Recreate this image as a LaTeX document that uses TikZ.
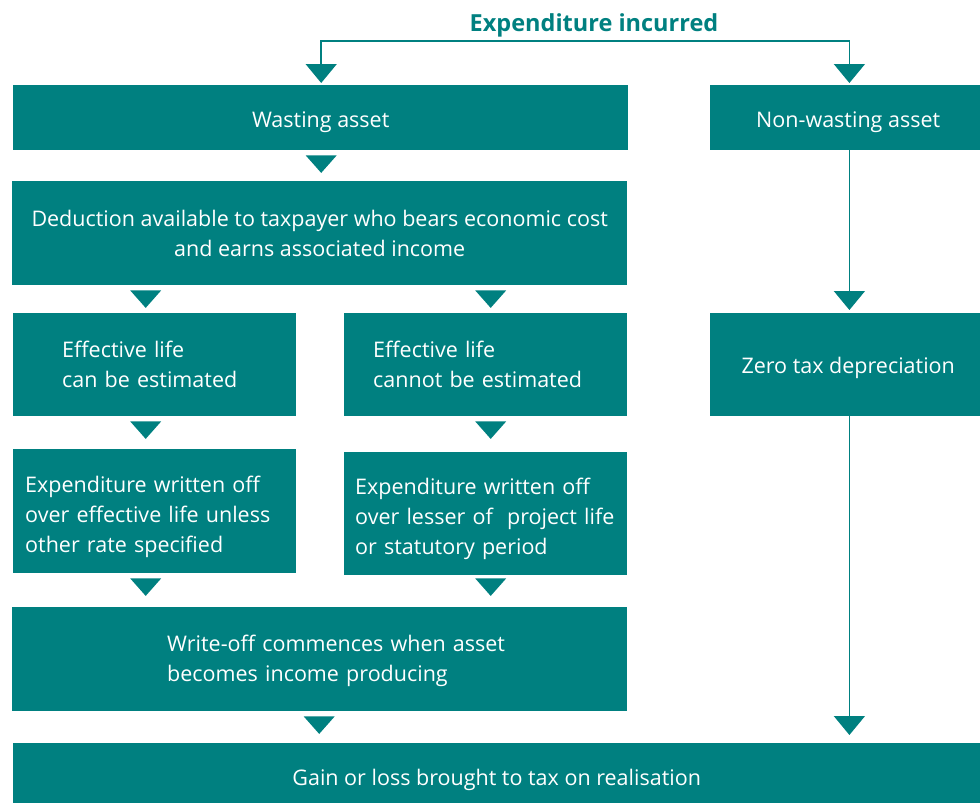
\documentclass[tikz,border=0pt]{standalone}
\usepackage{fontspec}
\setmainfont{Open Sans}
\usetikzlibrary{arrows.meta}
\definecolor{tealbox}{RGB}{0,128,128}
% set text lower by #1 without changing the space it takes
\newcommand\dropby[2]{\raisebox{-#1}[\height][\depth]{#2}}
% a left-aligned block of lines, indented by #1 and lowered by #2
\newcommand\indentlines[3]{\hspace*{#1}\dropby{#2}{\begin{tabular}{@{}l@{}}#3\end{tabular}}}
\begin{document}
\begin{tikzpicture}[x=1pt,y=-1pt,
  box/.style={anchor=north west, fill=tealbox, text=white, inner sep=0pt,
    font=\fontsize{21.5}{30}\selectfont},
  lbox/.style={box, text width=#1, align=left},
  tri/.pic={\fill[tealbox] (-15.5,0) -- (15.5,0) -- (0,17.5) -- cycle;},
  flow/.style={draw=tealbox, line width=1.6pt,
    -{Triangle[width=31pt,length=19pt]}, shorten >=2pt}]
\useasboundingbox (0,0) rectangle (980,803);

% heading
\node[text=tealbox, font=\fontsize{23.5}{26}\selectfont\bfseries] (head) at (594,25) {Expenditure incurred};
\coordinate (split) at (594,41);

% left branch: wasting asset
\node[box, minimum width=615pt, minimum height=65pt] (wasting) at (13,85) {\dropby{4pt}{Wasting asset}};
\node[box, minimum width=615pt, minimum height=104pt, align=center] (deduct) at (12,181)
  {Deduction available to taxpayer who bears economic cost\\and earns associated income};
\node[lbox=283pt, minimum width=283pt, minimum height=103pt] (estl) at (13,313)
  {\indentlines{49pt}{2pt}{Effective life\\can be estimated}};
\node[lbox=283pt, minimum width=283pt, minimum height=103pt] (estr) at (344,313)
  {\indentlines{29pt}{2pt}{Effective life\\cannot be estimated}};
\node[lbox=283pt, minimum width=283pt, minimum height=124pt] (wol) at (13,449)
  {\indentlines{12pt}{5pt}{Expenditure written off\\over effective life unless\\other rate specified}};
\node[lbox=283pt, minimum width=283pt, minimum height=123pt] (wor) at (344,452)
  {\indentlines{11pt}{5pt}{Expenditure written off\\over lesser of\ \ project life\\or statutory period}};
\node[lbox=615pt, minimum width=615pt, minimum height=104pt] (start) at (12,607)
  {\indentlines{155pt}{1pt}{Write-off commences when asset\\becomes income producing}};

% right branch: non-wasting asset
\node[box, minimum width=270pt, minimum height=65pt] (nonwasting) at (710,85)
  {\hspace*{6pt}\dropby{4pt}{Non-wasting asset}};
\node[box, minimum width=270pt, minimum height=103pt] (zero) at (710,313)
  {\hspace*{6pt}\dropby{3pt}{Zero tax depreciation}};

% common outcome
\node[box, minimum width=967pt, minimum height=60pt] (gain) at (13,743)
  {\dropby{7pt}{Gain or loss brought to tax on realisation}};

% connectors with arrowheads
\draw[flow] (split) -| ([xshift=0.5pt]wasting.north);
\draw[flow] (split) -| ([xshift=-131pt]nonwasting.north east);
\draw[flow, shorten >=3pt] ([xshift=-131pt]nonwasting.south east) -- ([xshift=-131pt]zero.north east);
\draw[flow, shorten >=8pt] ([xshift=-131pt]zero.south east) -- ([xshift=-131pt]gain.north east);

% arrowheads between stacked boxes
\pic at ([xshift=0.5pt,yshift=-5pt]wasting.south) {tri};
\pic at ([xshift=-9pt,yshift=-5pt]estl.north |- deduct.south) {tri};
\pic at ([xshift=5pt,yshift=-5pt]estr.north |- deduct.south) {tri};
\pic at ([xshift=-9pt,yshift=-5pt]estl.south) {tri};
\pic at ([xshift=5pt,yshift=-5pt]estr.south) {tri};
\pic at ([xshift=-9pt,yshift=-5pt]wol.south) {tri};
\pic at ([xshift=5pt,yshift=-3pt]wor.south) {tri};
\pic at ([xshift=-0.5pt,yshift=-5pt]start.south) {tri};
\end{tikzpicture}
\end{document}
